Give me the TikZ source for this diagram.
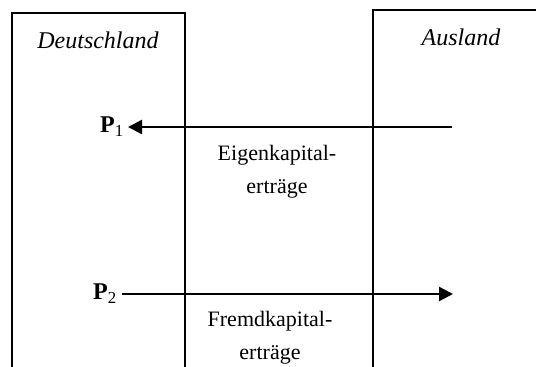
\documentclass[tikz,border=0pt]{standalone}
\usepackage{fontspec}
\setmainfont{Liberation Serif}
\usetikzlibrary{arrows.meta}
\tikzset{
  region/.style={line width=1.8pt},
  flow/.style={line width=2.3pt,-{Triangle[length=14pt,width=14pt]}},
  lbl/.style={font=\fontsize{22}{33}\selectfont,align=center,inner sep=0pt,anchor=base},
  ttl/.style={font=\fontsize{24}{33}\selectfont\itshape,inner sep=0pt,anchor=base},
  pt/.style={font=\fontsize{24}{26}\selectfont,inner sep=0pt}
}
\begin{document}
\begin{tikzpicture}[x=1pt,y=-1pt]
\useasboundingbox (0,0) rectangle (536,367);
% regions
\draw[region] (12,372) -- (12,13) -- (185,13) -- (185,372);
\draw[region] (373,372) -- (373,10) -- (541,10);
\node[ttl] (de) at (98,48) {Deutschland};
\node[ttl] (au) at (461,45) {Ausland};
% points
\node[pt,anchor=east] (p1) at (124,127) {\textbf{P}\textsubscript{1}};
\node[pt,anchor=east] (p2) at (117,294) {\textbf{P}\textsubscript{2}};
\coordinate (e1) at (452,127);
\coordinate (e2) at (453,294);
\draw[flow] (e1) -- ([xshift=4pt]p1.east |- e1);
\draw[flow] ([xshift=5pt]p2.east |- e2) -- (e2);
% labels
\node[lbl] (ek) at (277,193) {Eigenkapital-\\erträge};
\node[lbl] (fk) at (270,359) {Fremdkapital-\\erträge};
\end{tikzpicture}
\end{document}
